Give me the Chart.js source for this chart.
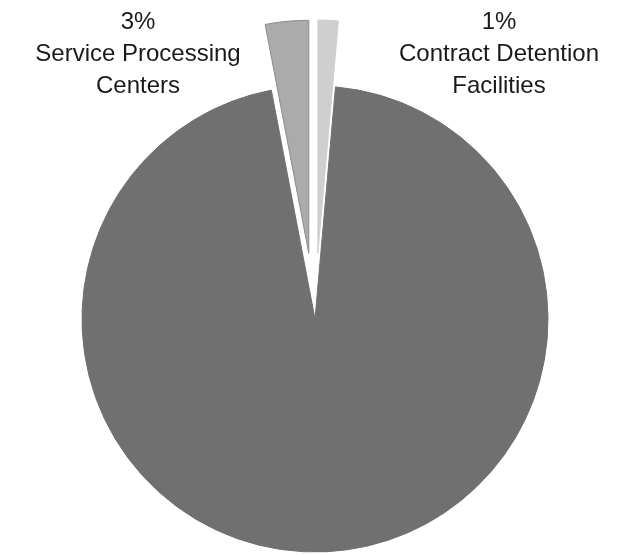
<!DOCTYPE html>
<html>
<head>
<meta charset="utf-8">
<script src="https://cdn.jsdelivr.net/npm/chart.js@4/dist/chart.umd.min.js"></script>
<style>
html,body{margin:0;padding:0;background:#fff;}
#wrap{position:relative;width:628px;height:555px;}
</style>
</head>
<body>
<div id="wrap"><canvas id="c" width="628" height="555"></canvas></div>
<script>
const categories = ["Contract Detention Facilities", "Other", "Service Processing Centers"];
const values = [1.4, 95.6, 3];
const pctLabels = ["1%", "", "3%"];
const nameLines = [["Contract Detention", "Facilities"], [], ["Service Processing", "Centers"]];
const sliceColors = ["#cfcfcf", "#717071", "#ababab"];
const borderColors = ["#cfcfcf", "#717071", "#8c8c8c"];

const EXPLODE_PX = [66, 0, 66];

// shift exploded arcs outward along their bisector (without growing their radius)
const explodePlugin = {
  id: 'explode',
  afterDatasetsUpdate(chart) {
    const meta = chart.getDatasetMeta(0);
    meta.data.forEach((arc, i) => {
      const d = EXPLODE_PX[i];
      if (!d) return;
      const mid = (arc.startAngle + arc.endAngle) / 2;
      arc.x += Math.cos(mid) * d;
      arc.y += Math.sin(mid) * d;
    });
  }
};

const labelPlugin = {
  id: 'sliceLabels',
  afterDraw(chart) {
    const ctx = chart.ctx;
    ctx.save();
    ctx.fillStyle = '#1a1a1a';
    ctx.font = '24px "Liberation Sans", Arial, sans-serif';
    ctx.textAlign = 'center';
    ctx.textBaseline = 'alphabetic';
    const xs = {0: 499, 2: 138};
    Object.keys(xs).forEach(k => {
      const lines = [pctLabels[k]].concat(nameLines[k]);
      lines.forEach((t, i) => ctx.fillText(t, xs[k], 29 + i * 32));
    });
    ctx.restore();
  }
};

new Chart(document.getElementById('c'), {
  type: 'pie',
  data: {
    labels: categories,
    datasets: [{
      data: values,
      backgroundColor: sliceColors,
      borderColor: borderColors,
      borderWidth: 1
    }]
  },
  options: {
    responsive: false,
    animation: false,
    radius: 233,
    layout: {padding: {top: 83, left: 2, right: 0, bottom: 0}},
    plugins: {legend: {display: false}, tooltip: {enabled: false}}
  },
  plugins: [explodePlugin, labelPlugin]
});
</script>
</body>
</html>
